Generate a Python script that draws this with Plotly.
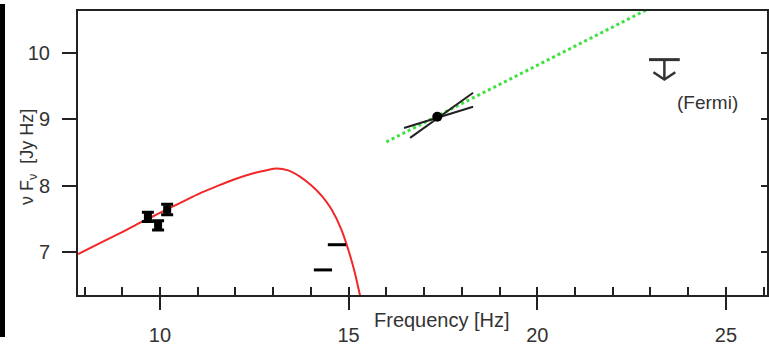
import plotly.graph_objects as go

# ---- data ----
sync_x = [7.83, 8.5, 9.0, 9.5, 10.0, 10.5, 11.0, 11.5, 12.0, 12.5, 12.8, 13.1, 13.4,
          13.7, 14.0, 14.3, 14.55, 14.8, 15.0, 15.15, 15.3, 15.4]
sync_y = [6.97, 7.16, 7.30, 7.45, 7.59, 7.73, 7.87, 7.99, 8.10, 8.19, 8.23, 8.26, 8.23,
          8.14, 8.01, 7.84, 7.64, 7.35, 7.02, 6.72, 6.35, 6.10]

radio_x = [9.68, 9.95, 10.19]
radio_y = [7.53, 7.40, 7.64]
radio_err = [0.07, 0.07, 0.08]

opt_x = [14.32, 14.69]
opt_y = [6.73, 7.11]

ic_x = [16.0, 23.0]
ic_y = [8.66, 10.68]

xray_x = 17.35
xray_y = 9.04
bow_steep_x = [16.63, 18.30]
bow_steep_y = [8.72, 9.40]
bow_flat_x = [16.47, 18.30]
bow_flat_y = [8.87, 9.19]

fermi_x = 23.37
fermi_ul = 9.90
fermi_tip = 9.60

x_ticks = [10, 15, 20, 25]
y_ticks = [7, 8, 9, 10]

FONT = "Liberation Sans, Arial, Helvetica, sans-serif"
TXT = "#333333"

fig = go.Figure()

# synchrotron curve
fig.add_trace(go.Scatter(x=sync_x, y=sync_y, mode="lines",
                         line=dict(color="#f02828", width=2), line_shape="spline",
                         hoverinfo="skip"))
# inverse Compton (green dotted)
fig.add_trace(go.Scatter(x=ic_x, y=ic_y, mode="lines",
                         line=dict(color="#3ee03e", width=3, dash="dot"),
                         hoverinfo="skip"))
# radio points
fig.add_trace(go.Scatter(x=radio_x, y=radio_y, mode="markers",
                         marker=dict(symbol="square", size=8, color="black"),
                         error_y=dict(type="data", array=radio_err, color="black",
                                      thickness=3, width=6)))
# optical dashes
fig.add_trace(go.Scatter(x=opt_x, y=opt_y, mode="markers",
                         marker=dict(symbol="line-ew", size=13,
                                     line=dict(color="black", width=3))))
# X-ray bow tie
fig.add_trace(go.Scatter(x=bow_steep_x, y=bow_steep_y, mode="lines",
                         line=dict(color="#222222", width=2)))
fig.add_trace(go.Scatter(x=bow_flat_x, y=bow_flat_y, mode="lines",
                         line=dict(color="#222222", width=2)))
fig.add_trace(go.Scatter(x=[xray_x], y=[xray_y], mode="markers",
                         marker=dict(symbol="circle", size=10, color="black")))

# Fermi upper limit (cap, stem, open arrow head)
fig.add_trace(go.Scatter(x=[fermi_x], y=[fermi_ul], mode="markers",
                         marker=dict(symbol="line-ew", size=22,
                                     line=dict(color="#333333", width=3))))
head_dx = 0.29
head_dy = 0.11
fig.add_trace(go.Scatter(x=[fermi_x, fermi_x], y=[fermi_ul, fermi_tip], mode="lines",
                         line=dict(color="#333333", width=2.5)))
fig.add_trace(go.Scatter(x=[fermi_x - head_dx, fermi_x, fermi_x + head_dx],
                         y=[fermi_tip + head_dy, fermi_tip, fermi_tip + head_dy],
                         mode="lines", line=dict(color="#333333", width=2.5)))
fig.add_annotation(x=24.5, y=9.25, text="(Fermi)", showarrow=False,
                   font=dict(family=FONT, size=19, color=TXT))

# dummy trace for secondary axes
fig.add_trace(go.Scatter(x=[10], y=[8], xaxis="x2", yaxis="y2", mode="markers",
                         marker=dict(opacity=0), hoverinfo="skip"))

xr = [7.827, 26.09]
yr = [6.352, 10.633]

fig.update_layout(
    width=769, height=346,
    margin=dict(l=78, r=2, t=11, b=51, autoexpand=False),
    paper_bgcolor="white", plot_bgcolor="white",
    showlegend=False,
    font=dict(family=FONT, size=20, color=TXT),
    xaxis=dict(range=xr, tickvals=x_ticks, ticks="outside", ticklen=13, tickwidth=2,
               tickcolor="#222", showline=True, linecolor="#222", linewidth=2,
               mirror=True, showgrid=False, zeroline=False, ticklabelstandoff=8,
               tickfont=dict(size=20, color=TXT)),
    yaxis=dict(range=yr, tickvals=y_ticks, ticks="outside", ticklen=14, tickwidth=2,
               tickcolor="#222", showline=True, linecolor="#222", linewidth=2,
               mirror=True, showgrid=False, zeroline=False, ticklabelstandoff=8,
               tickfont=dict(size=20, color=TXT)),
    xaxis2=dict(range=xr, overlaying="x", side="bottom", dtick=1, tick0=0,
                ticks="inside", ticklen=8, tickwidth=2, tickcolor="#222",
                showticklabels=False, showgrid=False, zeroline=False, showline=False),
    yaxis2=dict(range=yr, overlaying="y", side="right", tickvals=y_ticks,
                ticks="inside", ticklen=6, tickwidth=2, tickcolor="#222",
                showticklabels=False, showgrid=False, zeroline=False, showline=False),
)

# axis titles as annotations
fig.add_annotation(xref="paper", yref="paper", x=(442 - 78) / 689, y=(295 - 320) / 284,
                   xanchor="center", yanchor="middle",
                   text="Frequency [Hz]", showarrow=False,
                   font=dict(family=FONT, size=20, color=TXT))
fig.add_annotation(xref="paper", yref="paper", x=(28 - 78) / 689, y=(295 - 157) / 284,
                   xanchor="center", yanchor="middle",
                   text="ν F<sub>ν</sub>  [Jy Hz]", showarrow=False, textangle=-90,
                   font=dict(family=FONT, size=18, color=TXT))

# black bar at the left edge
fig.add_shape(type="rect", xref="paper", yref="paper",
              x0=(0 - 78) / 689, x1=(5 - 78) / 689,
              y0=(295 - 337) / 284, y1=(295 - 4) / 284,
              fillcolor="black", line=dict(width=0))

fig.write_html("out.html", config={"displayModeBar": False},
               post_script="document.body.style.margin='0';")
